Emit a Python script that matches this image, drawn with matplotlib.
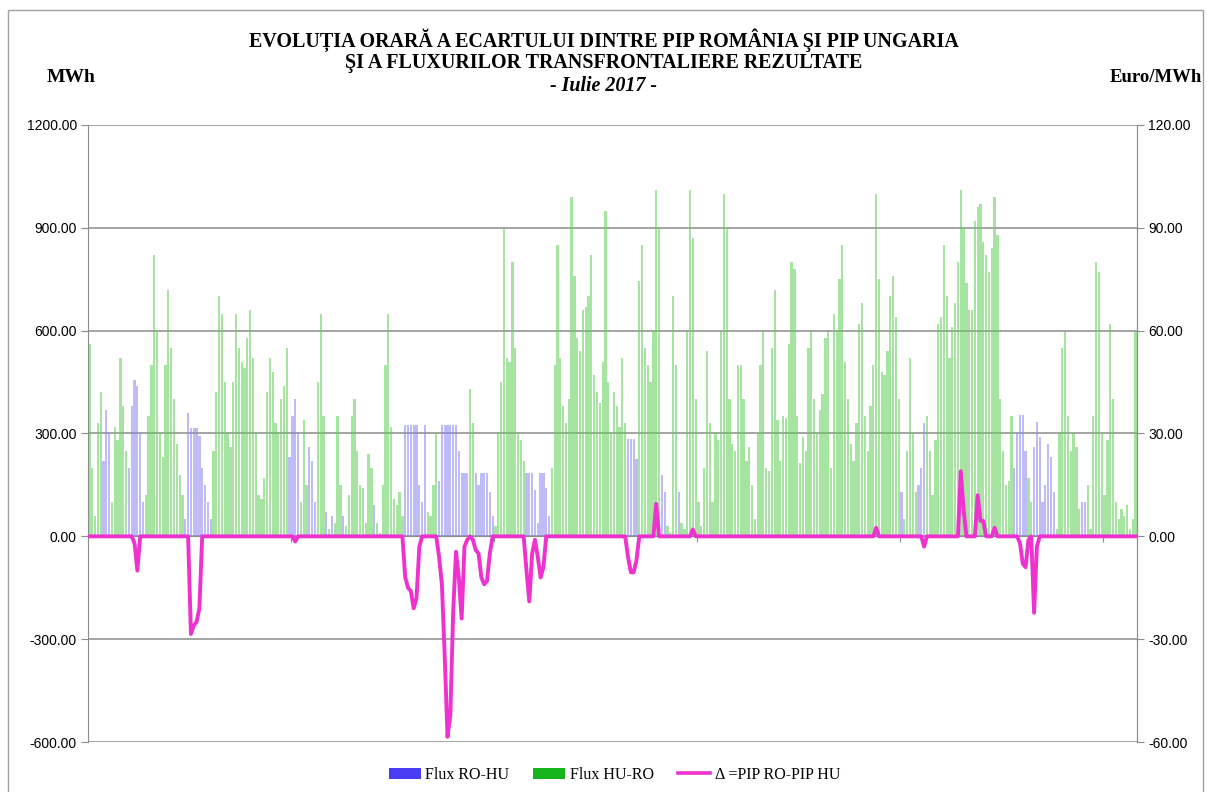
import numpy as np
import matplotlib
matplotlib.use("Agg")
import matplotlib.pyplot as plt
from matplotlib.patches import Patch, Rectangle
from matplotlib.lines import Line2D

# ======================
# DATE (pas de 2 ore, 12 valori / zi, iulie 2017)
# ======================
flux_hu_ro = [  # MWh
    560, 200, 60, 330, 420, 0, 0, 0, 100, 320, 280, 520,
    380, 250, 0, 0, 0, 0, 0, 0, 120, 350, 500, 820,
    600, 300, 230, 500, 720, 550, 400, 270, 180, 120, 0, 0,
    0, 0, 0, 0, 0, 0, 0, 0, 250, 420, 700, 650,
    450, 300, 260, 450, 650, 550, 510, 490, 580, 660, 520, 300,
    120, 110, 170, 420, 520, 480, 330, 300, 400, 440, 550, 0,
    0, 0, 0, 100, 340, 150, 0, 0, 0, 450, 650, 350,
    0, 20, 0, 40, 350, 150, 0, 30, 120, 350, 400, 250,
    150, 140, 40, 240, 200, 0, 40, 10, 150, 500, 650, 320,
    110, 90, 130, 60, 0, 0, 0, 0, 0, 0, 0, 0,
    70, 60, 150, 300, 0, 0, 0, 0, 0, 0, 0, 0,
    0, 0, 0, 430, 330, 0, 0, 0, 0, 0, 0, 0,
    30, 300, 450, 900, 520, 510, 800, 550, 300, 280, 220, 0,
    0, 0, 0, 0, 0, 0, 0, 0, 200, 500, 850, 520,
    380, 330, 400, 990, 760, 580, 540, 660, 670, 700, 820, 470,
    420, 390, 510, 950, 450, 300, 420, 380, 320, 520, 330, 0,
    0, 0, 0, 745, 850, 550, 500, 450, 600, 1010, 900, 0,
    0, 30, 10, 700, 500, 0, 40, 20, 600, 1010, 870, 400,
    100, 30, 200, 540, 330, 100, 300, 280, 600, 1000, 900, 400,
    270, 250, 500, 500, 400, 220, 260, 150, 50, 300, 500, 600,
    200, 190, 550, 720, 340, 220, 350, 345, 560, 800, 780, 350,
    215, 290, 250, 550, 600, 400, 300, 370, 415, 580, 600, 200,
    650, 600, 750, 850, 510, 400, 270, 220, 330, 620, 680, 350,
    250, 380, 500, 1000, 750, 480, 470, 540, 700, 760, 640, 400,
    0, 50, 250, 520, 300, 130, 0, 0, 0, 350, 250, 120,
    280, 620, 640, 850, 700, 520, 610, 680, 800, 1010, 900, 740,
    660, 660, 920, 960, 970, 860, 820, 770, 840, 990, 880, 400,
    250, 150, 160, 350, 0, 0, 0, 0, 0, 170, 100, 0,
    0, 0, 0, 0, 0, 0, 0, 20, 300, 550, 600, 350,
    250, 300, 260, 80, 0, 0, 150, 20, 350, 800, 770, 300,
    120, 280, 620, 400, 100, 50, 80, 60, 90, 20, 50, 600,
]

flux_ro_hu = [  # MWh
    0, 0, 0, 0, 0, 220, 370, 300, 0, 0, 0, 0,
    0, 0, 200, 380, 455, 440, 300, 100, 0, 0, 0, 0,
    0, 0, 0, 0, 0, 0, 0, 0, 0, 0, 50, 360,
    316, 316, 316, 292, 200, 150, 100, 50, 0, 0, 0, 0,
    0, 0, 0, 0, 0, 0, 0, 0, 0, 0, 0, 0,
    0, 0, 0, 0, 0, 0, 0, 0, 0, 0, 0, 230,
    350, 400, 300, 0, 0, 0, 260, 220, 100, 0, 0, 0,
    70, 0, 60, 0, 0, 0, 60, 0, 0, 0, 0, 0,
    0, 0, 0, 0, 0, 90, 0, 0, 0, 0, 0, 0,
    0, 0, 0, 0, 325, 325, 325, 325, 325, 150, 100, 325,
    0, 0, 0, 0, 160, 325, 325, 325, 325, 325, 325, 250,
    185, 185, 185, 0, 0, 185, 150, 185, 185, 185, 130, 60,
    0, 0, 0, 0, 0, 0, 0, 0, 0, 0, 0, 185,
    185, 185, 135, 40, 185, 185, 140, 60, 0, 0, 0, 0,
    0, 0, 0, 0, 0, 0, 0, 0, 0, 0, 0, 0,
    0, 0, 0, 0, 0, 0, 0, 0, 0, 0, 0, 285,
    285, 285, 225, 0, 0, 0, 0, 0, 0, 0, 0, 180,
    130, 0, 0, 0, 0, 130, 0, 0, 0, 0, 0, 0,
    0, 0, 0, 0, 0, 0, 0, 0, 0, 0, 0, 0,
    0, 0, 0, 0, 0, 0, 0, 0, 0, 0, 0, 0,
    0, 0, 0, 0, 0, 0, 0, 0, 0, 0, 0, 0,
    0, 0, 0, 0, 0, 0, 0, 0, 0, 0, 0, 0,
    0, 0, 0, 0, 0, 0, 0, 0, 0, 0, 0, 0,
    0, 0, 0, 0, 0, 0, 0, 0, 0, 0, 0, 0,
    130, 0, 0, 0, 0, 0, 150, 200, 330, 0, 0, 0,
    0, 0, 0, 0, 0, 0, 0, 0, 0, 0, 0, 0,
    0, 0, 0, 0, 0, 0, 0, 0, 0, 0, 0, 0,
    0, 0, 0, 0, 200, 300, 355, 355, 250, 0, 0, 260,
    335, 290, 100, 150, 270, 230, 130, 0, 0, 0, 0, 0,
    0, 0, 0, 0, 100, 100, 0, 0, 0, 0, 0, 0,
    0, 0, 0, 0, 0, 0, 0, 0, 0, 0, 0, 0,
]

delta_pip = [  # Euro/MWh, PIP RO - PIP HU
    0, 0, 0, 0, 0, 0, 0, 0, 0, 0, 0, 0,
    0, 0, 0, 0, -2, -10, 0, 0, 0, 0, 0, 0,
    0, 0, 0, 0, 0, 0, 0, 0, 0, 0, 0, 0,
    -28.5, -26, -25, -21, 0, 0, 0, 0, 0, 0, 0, 0,
    0, 0, 0, 0, 0, 0, 0, 0, 0, 0, 0, 0,
    0, 0, 0, 0, 0, 0, 0, 0, 0, 0, 0, 0,
    0, -1.5, 0, 0, 0, 0, 0, 0, 0, 0, 0, 0,
    0, 0, 0, 0, 0, 0, 0, 0, 0, 0, 0, 0,
    0, 0, 0, 0, 0, 0, 0, 0, 0, 0, 0, 0,
    0, 0, 0, 0, -12, -15, -16, -21, -18, -3, 0, 0,
    0, 0, 0, 0, -6, -14, -35, -58.5, -52, -22, -4.5, -12,
    -24, -3, -1, 0, -1, -4, -5, -12, -14, -13, -5, 0,
    0, 0, 0, 0, 0, 0, 0, 0, 0, 0, 0, -10,
    -19, -5, -1, -6, -12, -9, 0, 0, 0, 0, 0, 0,
    0, 0, 0, 0, 0, 0, 0, 0, 0, 0, 0, 0,
    0, 0, 0, 0, 0, 0, 0, 0, 0, 0, 0, -6,
    -10.5, -10.5, -7, 0, 0, 0, 0, 0, 0, 9.5, 0, 0,
    0, 0, 0, 0, 0, 0, 0, 0, 0, 0, 2, 0,
    0, 0, 0, 0, 0, 0, 0, 0, 0, 0, 0, 0,
    0, 0, 0, 0, 0, 0, 0, 0, 0, 0, 0, 0,
    0, 0, 0, 0, 0, 0, 0, 0, 0, 0, 0, 0,
    0, 0, 0, 0, 0, 0, 0, 0, 0, 0, 0, 0,
    0, 0, 0, 0, 0, 0, 0, 0, 0, 0, 0, 0,
    0, 0, 0, 2.5, 0, 0, 0, 0, 0, 0, 0, 0,
    0, 0, 0, 0, 0, 0, 0, 0, -3, 0, 0, 0,
    0, 0, 0, 0, 0, 0, 0, 0, 0, 19, 8, 0,
    0, 0, 0, 12, 4.5, 4.5, 0, 0, 0, 2.5, 0, 0,
    0, 0, 0, 0, 0, 0, -2, -8, -9, -1, 0, -22.3,
    -3, 0, 0, 0, 0, 0, 0, 0, 0, 0, 0, 0,
    0, 0, 0, 0, 0, 0, 0, 0, 0, 0, 0, 0,
    0, 0, 0, 0, 0, 0, 0, 0, 0, 0, 0, 0,
]

left_ticks = [-600, -300, 0, 300, 600, 900, 1200]
right_ticks = [-60, -30, 0, 30, 60, 90, 120]

# ======================
# GRAFIC
# ======================
ore = np.arange(len(flux_hu_ro)) * 2 + 1  # centrul fiecarui interval de 2 ore

fig = plt.figure(figsize=(12.07, 7.92), dpi=100)
ax = fig.add_axes([88 / 1207, 1 - 742 / 792, (1137 - 88) / 1207, (742 - 125) / 792])

ax.bar(ore, flux_hu_ro, width=1.6, color="#5fcf57", alpha=0.55, linewidth=0, zorder=2)
ax.bar(ore, flux_ro_hu, width=1.6, color="#8c84f2", alpha=0.55, linewidth=0, zorder=2)

ax.set_xlim(0, 744)
ax.set_ylim(-600, 1200)
ax.set_yticks(left_ticks)
ax.set_yticklabels([f"{v:.2f}" for v in left_ticks], fontsize=10, family="Liberation Sans")
ax.grid(axis="y", color="#8c8c8c", linewidth=1.1, zorder=1)
ax.set_axisbelow(True)

ax.spines["bottom"].set_position(("data", 0))
ax.spines["bottom"].set_color("#8c8c8c")
ax.spines["top"].set_visible(False)
ax.spines["left"].set_color("#8c8c8c")
ax.spines["right"].set_color("#8c8c8c")
ax.set_xticks(np.arange(0, 745, 144))
ax.set_xticklabels([])
ax.tick_params(axis="x", direction="out", length=4, color="#8c8c8c")
ax.tick_params(axis="y", direction="out", length=5, color="#8c8c8c", pad=3)

ax2 = ax.twinx()
ax2.plot(ore, delta_pip, color="#ef32cf", linewidth=2.8, zorder=5)
ax2.set_ylim(-60, 120)
ax2.set_yticks(right_ticks)
ax2.set_yticklabels([f"{v:.2f}" for v in right_ticks], fontsize=10, family="Liberation Sans")
ax2.tick_params(axis="y", direction="out", length=5, color="#8c8c8c", pad=3)
for s in ["top", "bottom", "left"]:
    ax2.spines[s].set_visible(False)
ax2.spines["right"].set_color("#8c8c8c")

# titlu
serif = "Liberation Serif"
fig.text(0.5, 1 - 40 / 792, "EVOLUȚIA ORARĂ A ECARTULUI DINTRE PIP ROMÂNIA ŞI PIP UNGARIA",
         ha="center", va="center", fontsize=14.4, fontweight="bold", family=serif)
fig.text(0.5, 1 - 63 / 792, "ŞI A FLUXURILOR TRANSFRONTALIERE REZULTATE",
         ha="center", va="center", fontsize=14.4, fontweight="bold", family=serif)
fig.text(0.5, 1 - 86 / 792, "- Iulie 2017 -",
         ha="center", va="center", fontsize=14.4, fontweight="bold", style="italic", family=serif)
fig.text(71 / 1207, 1 - 78 / 792, "MWh", ha="center", va="center",
         fontsize=14, fontweight="bold", family=serif)
fig.text(1156 / 1207, 1 - 78 / 792, "Euro/MWh", ha="center", va="center",
         fontsize=13.5, fontweight="bold", family=serif)

# legenda
handles = [
    Patch(facecolor="#4b3cf5", edgecolor="none", label="Flux RO-HU"),
    Patch(facecolor="#16b51e", edgecolor="none", label="Flux HU-RO"),
    Line2D([], [], color="#ef32cf", linewidth=2.6, label="Δ =PIP RO-PIP HU"),
]
fig.legend(handles=handles, loc="center", bbox_to_anchor=(0.5 + 11 / 1207, 1 - 775 / 792), ncol=3,
           frameon=False, prop={"family": serif, "size": 11.5}, handlelength=2.0,
           columnspacing=1.5, handletextpad=0.3)

# chenar
fig.patches.append(Rectangle((8 / 1207, -0.01), (1203 - 8) / 1207, 1.01 - 10 / 792,
                             transform=fig.transFigure, fill=False,
                             edgecolor="#a0a0a0", linewidth=1))

fig.savefig("out.png", dpi=100)
